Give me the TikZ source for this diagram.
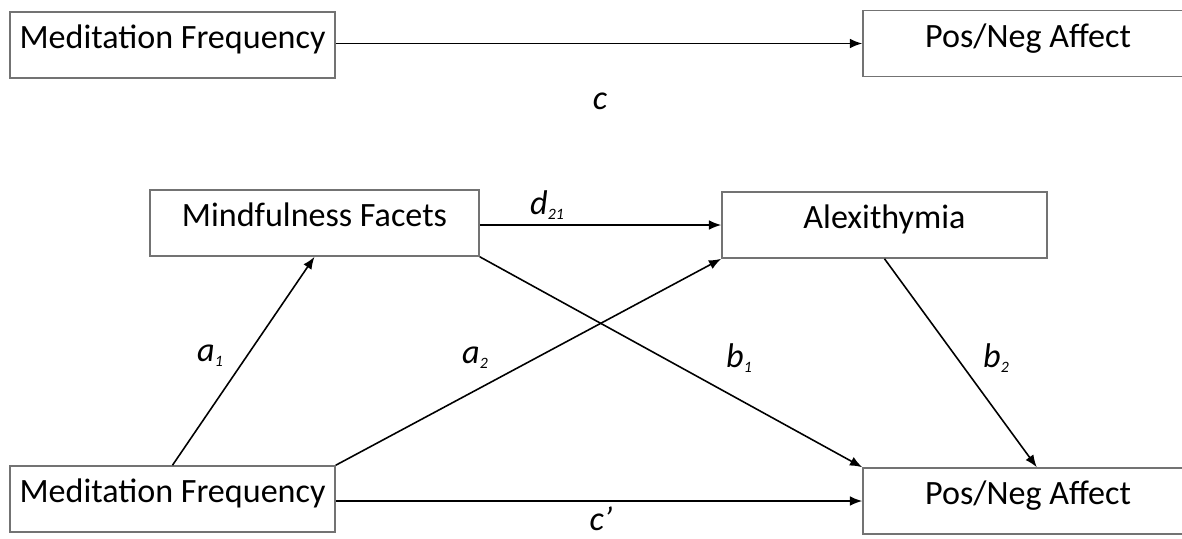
\documentclass[tikz,border=0pt]{standalone}
\usepackage{fontspec}
\setmainfont{Carlito}
\usetikzlibrary{arrows.meta}
\newcommand\lsub[1]{\raisebox{-.3ex}{\fontsize{9}{10}\selectfont#1}}

\begin{document}
\begin{tikzpicture}[x=.02cm,y=-.02cm,
      every node/.style={font=\fontsize{19.4}{23}\selectfont,inner sep=1pt},
      var/.style={draw=black!55,line width=.9pt,minimum width=6.5cm,
        minimum height=1.32cm,text height=.7em,text depth=.3em},
      eff/.style={line width=.9pt,-{Latex[length=7pt,width=5.5pt]}},
      lab/.style={font=\fontsize{19.5}{22}\selectfont\itshape}]
    \useasboundingbox (0,0) rectangle (1182,538);
    \clip (0,0) rectangle (1182,538);

    % total effect
    \node[var] (mfTop) at (172.5,45) {Meditation Frequency};
    \node[var,minimum width=6.6cm] (paTop) at (1028,43.5) {Pos/Neg Affect};
    \draw[eff] (mfTop.east |- paTop.west) -- (paTop.west);
    \node[lab] at (600,101) {c};

    % serial mediation
    \node[var,minimum width=6.58cm] (mind) at (314.5,223) {Mindfulness Facets};
    \node[var] (alex) at (884.5,225) {Alexithymia};
    \node[var] (mfBot) at (172.5,499) {Meditation Frequency};
    \node[var,minimum width=6.6cm] (paBot) at (1028,501) {Pos/Neg Affect};

    \draw[eff] (mind.east |- alex.west) -- (alex.west);
    \draw[eff] (mfBot.north) -- (mind.south);
    \draw[eff] (mfBot.north east) -- (alex.south west);
    \draw[eff] (mind.south east) -- (paBot.north west);
    \draw[eff] (alex.south) -- ([xshift=5pt]paBot.north);
    \draw[eff] (mfBot.east |- paBot.west) -- (paBot.west);

    \node[lab] at (547,205) {d\lsub{21}};
    \node[lab] at (210,356) {a\lsub{1}};
    \node[lab] at (475,358) {a\lsub{2}};
    \node[lab] at (739,358) {b\lsub{1}};
    \node[lab] at (996,358) {b\lsub{2}};
    \node[lab] at (601,519) {c'};
  \end{tikzpicture}
\end{document}
